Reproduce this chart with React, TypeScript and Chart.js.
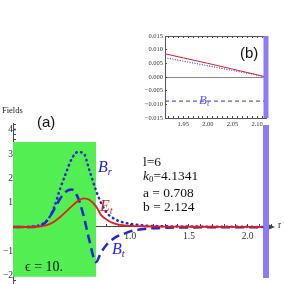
import React, { useEffect, useRef } from 'react';
import { Chart, registerables } from 'chart.js';
Chart.register(...registerables);

// ---- main panel (a) data ----
const radius = [0, 0.05, 0.1, 0.15, 0.2, 0.25, 0.3, 0.35, 0.4, 0.45, 0.5, 0.55, 0.6, 0.65, 0.708, 0.75, 0.8, 0.85, 0.9, 0.95, 1.0, 1.1, 1.2, 1.3, 1.4, 1.6, 1.8, 2.0, 2.124];
const fieldBr = [0, 0, 0, 0.01, 0.04, 0.12, 0.32, 0.8, 1.55, 2.2, 2.8, 3.08, 3.05, 2.35, 1.5, 1.0, 0.58, 0.38, 0.25, 0.18, 0.13, 0.07, 0.04, 0.03, 0.02, 0.015, 0.01, 0.007, 0];
const fieldBt = [0, 0, 0, 0, 0.01, 0.07, 0.32, 0.72, 1.15, 1.45, 1.54, 1.25, 0.5, -0.53, -1.44, -1.05, -0.72, -0.5, -0.36, -0.27, -0.18, -0.09, -0.05, -0.03, -0.02, -0.015, -0.012, -0.01, -0.009];
const fieldEt = [0, 0, 0, 0, 0.01, 0.04, 0.1, 0.22, 0.4, 0.62, 0.85, 1.06, 1.18, 1.12, 0.85, 0.5, 0.3, 0.17, 0.1, 0.07, 0.05, 0.03, 0.02, 0.015, 0.012, 0.01, 0.009, 0.006, 0];
const innerRadius = 0.708;
const slabRange = [-2.05, 3.5];
const wallRadius = 2.157;
const wallRange = [-2.1, 4.2];
const mainXRange = [0, 2.208];
const mainYRange = [-2.346, 4.28];
const mainXTicks = [0.5, 1.0, 1.5, 2.0];
const mainYTicks = [-2, -1, 1, 2, 3, 4];
const mainXMinor = [0.1, 0.2, 0.3, 0.4, 0.5, 0.6, 0.7, 0.8, 0.9, 1.0, 1.1, 1.2, 1.3, 1.4, 1.5, 1.6, 1.7, 1.8, 1.9, 2.0, 2.1, 2.2];
const mainYMinor = [-2.2, -2, -1.8, -1.6, -1.4, -1.2, -1, -0.8, -0.6, -0.4, -0.2, 0.2, 0.4, 0.6, 0.8, 1, 1.2, 1.4, 1.6, 1.8, 2, 2.2, 2.4, 2.6, 2.8, 3, 3.2, 3.4, 3.6, 3.8, 4, 4.2];

// ---- inset (b) data ----
const insetRadius = [1.913, 1.95, 2.0, 2.05, 2.1, 2.118];
const insetEt = [0.0085, 0.007, 0.005, 0.0029, 0.0008, 0];
const insetBr = [0.0071, 0.0058, 0.0041, 0.0024, 0.0007, 0];
const insetBt = [-0.0088, -0.0088, -0.0088, -0.0088, -0.0088, -0.0088];
const insetXRange = [1.913, 2.118];
const insetYRange = [-0.015, 0.015];
const insetXTicks = [1.95, 2.0, 2.05, 2.1];
const insetXMinor = [1.92, 1.93, 1.94, 1.95, 1.96, 1.97, 1.98, 1.99, 2.0, 2.01, 2.02, 2.03, 2.04, 2.05, 2.06, 2.07, 2.08, 2.09, 2.1, 2.11];
const insetYTicks = [-0.015, -0.01, -0.005, 0, 0.005, 0.01, 0.015];

const BLUE = 'rgb(35,35,215)';
const RED = 'rgb(228,30,30)';
const GREEN = 'rgb(82,238,82)';
const PURPLE = 'rgb(140,122,250)';
const LAVENDER = 'rgb(95,85,235)';
const AXIS = '#444';
const SERIF = "'Liberation Serif', 'DejaVu Serif', serif";

const pts = (xs: number[], ys: number[]) => xs.map((x, i) => ({ x, y: ys[i] }));
const near = (v: number, list: number[]) => list.find((t) => Math.abs(t - v) < 1e-7);
const minus = (s: string) => s.replace('-', '\u2212');
const setTicks = (list: number[]) => (s: any) => {
  s.ticks = list.map((value) => ({ value }));
};

const zeroPad = (s: any) => {
  s.paddingLeft = 0;
  s.paddingRight = 0;
  s.paddingTop = 0;
  s.paddingBottom = 0;
};

const arrowPlugin = {
  id: 'axisArrow',
  afterDraw(chart: any) {
    const { ctx, chartArea } = chart;
    const y0 = chart.scales.y.getPixelForValue(0);
    const x0 = chartArea.right;
    ctx.save();
    ctx.fillStyle = AXIS;
    ctx.beginPath();
    ctx.moveTo(x0 + 3, y0);
    ctx.lineTo(x0 - 3, y0 - 2.5);
    ctx.lineTo(x0 - 3, y0 + 2.5);
    ctx.closePath();
    ctx.fill();
    ctx.restore();
  },
};

function MainChart() {
  const ref = useRef<HTMLCanvasElement>(null);
  useEffect(() => {
    const chart = new Chart(ref.current!, {
      type: 'scatter',
      data: {
        datasets: [
          { label: 'Et', data: pts(radius, fieldEt), showLine: true, borderColor: RED, borderWidth: 1.8, pointRadius: 0, cubicInterpolationMode: 'monotone', order: 1 },
          { label: 'Bt', data: pts(radius, fieldBt), showLine: true, borderColor: BLUE, borderWidth: 2.5, borderDash: [9, 5], pointRadius: 0, cubicInterpolationMode: 'monotone', order: 2 },
          { label: 'Br', data: pts(radius, fieldBr), showLine: true, borderColor: BLUE, borderWidth: 2.5, borderDash: [0.5, 4.5], borderCapStyle: 'round', pointRadius: 0, cubicInterpolationMode: 'monotone', order: 3 },
          { label: 'wall', data: [{ x: wallRadius, y: wallRange[0] }, { x: wallRadius, y: wallRange[1] }], showLine: true, borderColor: PURPLE, borderWidth: 6, pointRadius: 0, order: 5 },
          { label: 'slab', data: [{ x: 0, y: slabRange[1] }, { x: innerRadius, y: slabRange[1] }], showLine: true, borderColor: 'transparent', borderWidth: 0, pointRadius: 0, backgroundColor: GREEN, fill: { value: slabRange[0] }, order: 10 },
        ] as any,
      },
      options: {
        animation: false,
        responsive: false,
        events: [],
        layout: { padding: { left: 13, top: 123, right: 12, bottom: 0 } },
        plugins: { legend: { display: false }, tooltip: { enabled: false } },
        scales: {
          x: {
            type: 'linear',
            position: { y: 0 } as any,
            min: mainXRange[0],
            max: mainXRange[1],
            afterBuildTicks: setTicks(mainXMinor),
            afterFit: zeroPad,
            ticks: {
              autoSkip: false,
              maxRotation: 0,
              padding: 7,
              color: '#333',
              font: { family: SERIF, size: 9.5 },
              callback: (v: any) => {
                const t = near(Number(v), mainXTicks);
                return t === undefined ? '' : t.toFixed(1);
              },
            },
            grid: { drawOnChartArea: false, tickLength: -3, tickColor: AXIS },
            border: { color: AXIS, width: 1 },
          },
          y: {
            type: 'linear',
            position: { x: 0 } as any,
            min: mainYRange[0],
            max: mainYRange[1],
            afterBuildTicks: setTicks(mainYMinor),
            afterFit: zeroPad,
            ticks: {
              autoSkip: false,
              padding: 10,
              color: '#333',
              font: { family: SERIF, size: 9.5 },
              callback: (v: any) => {
                const t = near(Number(v), mainYTicks);
                return t === undefined ? '' : minus(String(t));
              },
            },
            grid: {
              drawOnChartArea: false,
              tickLength: -3,
              tickColor: AXIS,
              tickWidth: (c: any) => (c.tick && near(c.tick.value, mainYTicks) !== undefined ? 1.5 : 1),
            },
            border: { color: AXIS, width: 1 },
          },
        },
      } as any,
      plugins: [arrowPlugin],
    });
    return () => chart.destroy();
  }, []);
  return <canvas ref={ref} width={284} height={284} style={{ position: 'absolute', left: 0, top: 0 }} />;
}

function InsetChart() {
  const ref = useRef<HTMLCanvasElement>(null);
  useEffect(() => {
    const chart = new Chart(ref.current!, {
      type: 'scatter',
      data: {
        datasets: [
          { label: 'Et', data: pts(insetRadius, insetEt), showLine: true, borderColor: RED, borderWidth: 1, pointRadius: 0, order: 1 },
          { label: 'Br', data: pts(insetRadius, insetBr), showLine: true, borderColor: BLUE, borderWidth: 1, borderDash: [1, 1.5], pointRadius: 0, order: 2 },
          { label: 'Bt', data: pts(insetRadius, insetBt), showLine: true, borderColor: LAVENDER, borderWidth: 1.3, borderDash: [4, 3], pointRadius: 0, order: 3 },
          { label: 'wall', data: [{ x: insetXRange[1], y: insetYRange[0] }, { x: insetXRange[1], y: insetYRange[1] }], showLine: true, borderColor: PURPLE, borderWidth: 5, pointRadius: 0, clip: false, order: 0 },
        ] as any,
      },
      options: {
        animation: false,
        responsive: false,
        events: [],
        layout: { padding: { left: 0, top: 8, right: 4, bottom: 0 } },
        plugins: { legend: { display: false }, tooltip: { enabled: false } },
        scales: {
          x: {
            type: 'linear',
            position: 'bottom',
            min: insetXRange[0],
            max: insetXRange[1],
            afterBuildTicks: setTicks(insetXMinor),
            afterFit: (s: any) => { s.height = 12; zeroPad(s); },
            ticks: {
              autoSkip: false,
              maxRotation: 0,
              padding: 4,
              color: '#333',
              font: { family: SERIF, size: 6.5 },
              callback: (v: any) => {
                const t = near(Number(v), insetXTicks);
                return t === undefined ? '' : t.toFixed(2);
              },
            },
            grid: { drawOnChartArea: false, tickLength: -2, tickColor: AXIS },
            border: { color: '#555', width: 1 },
          },
          x2: {
            type: 'linear',
            position: 'top',
            min: insetXRange[0],
            max: insetXRange[1],
            afterBuildTicks: setTicks(insetXMinor),
            afterFit: (s: any) => { s.height = 0; zeroPad(s); },
            ticks: { display: false },
            grid: { drawOnChartArea: false, tickLength: -2, tickColor: AXIS },
            border: { color: '#555', width: 1 },
          },
          y: {
            type: 'linear',
            position: 'left',
            min: insetYRange[0],
            max: insetYRange[1],
            afterBuildTicks: setTicks(insetYTicks),
            afterFit: (s: any) => { s.width = 37; zeroPad(s); },
            ticks: {
              autoSkip: false,
              padding: 4,
              color: '#333',
              font: { family: SERIF, size: 6.5 },
              callback: (v: any) => {
                const t = near(Number(v), insetYTicks);
                if (t === undefined) return '';
                return t === 0 ? '0.000' : minus(t.toFixed(3));
              },
            },
            grid: {
              drawOnChartArea: true,
              tickLength: -2,
              tickColor: AXIS,
              color: (c: any) => (c.tick && Math.abs(c.tick.value) < 1e-9 ? '#888' : 'transparent'),
            },
            border: { color: '#555', width: 1 },
          },
        },
      } as any,
    });
    return () => chart.destroy();
  }, []);
  return <canvas ref={ref} width={142} height={102} style={{ position: 'absolute', left: 128, top: 28 }} />;
}

const txt = (left: number, top: number, extra: React.CSSProperties = {}): React.CSSProperties => ({
  position: 'absolute',
  left,
  top,
  whiteSpace: 'nowrap',
  lineHeight: 1,
  fontFamily: SERIF,
  ...extra,
});

const sub: React.CSSProperties = { fontSize: '0.65em', verticalAlign: '-0.25em' };

export default function App() {
  return (
    <div style={{ position: 'fixed', left: 0, top: 0, width: 284, height: 284, background: '#fff', overflow: 'hidden' }}>
      <MainChart />
      <InsetChart />
      <span style={txt(2, 106, { fontSize: 8.5, color: '#222' })}>Fields</span>
      <span style={txt(37, 114, { fontSize: 15, fontFamily: "'Liberation Sans', Arial, sans-serif", color: '#111' })}>(a)</span>
      <span style={txt(240, 45, { fontSize: 15, fontFamily: "'Liberation Sans', Arial, sans-serif", color: '#111' })}>(b)</span>
      <span style={txt(278, 221, { fontSize: 9.5, color: '#222' })}>r</span>
      <div style={txt(143, 155, { fontSize: 13.5, lineHeight: '14px', color: '#111' })}>
        <div>l=6</div>
        <div><i>k</i><span style={sub}>0</span>=4.1341</div>
        <div>a = 0.708</div>
        <div>b = 2.124</div>
      </div>
      <span style={txt(98, 159, { fontSize: 16, fontStyle: 'italic', color: BLUE })}>B<span style={sub}>r</span></span>
      <span style={txt(100, 198, { fontSize: 16, fontStyle: 'italic', color: RED })}>E<span style={sub}>t</span></span>
      <span style={txt(112, 241, { fontSize: 16, fontStyle: 'italic', color: BLUE })}>B<span style={sub}>t</span></span>
      <span style={txt(199, 93, { fontSize: 13, fontStyle: 'italic', color: LAVENDER })}>B<span style={sub}>t</span></span>
      <span style={txt(25, 260, { fontSize: 14, color: '#111' })}>{'\u03f5 = 10.'}</span>
    </div>
  );
}
